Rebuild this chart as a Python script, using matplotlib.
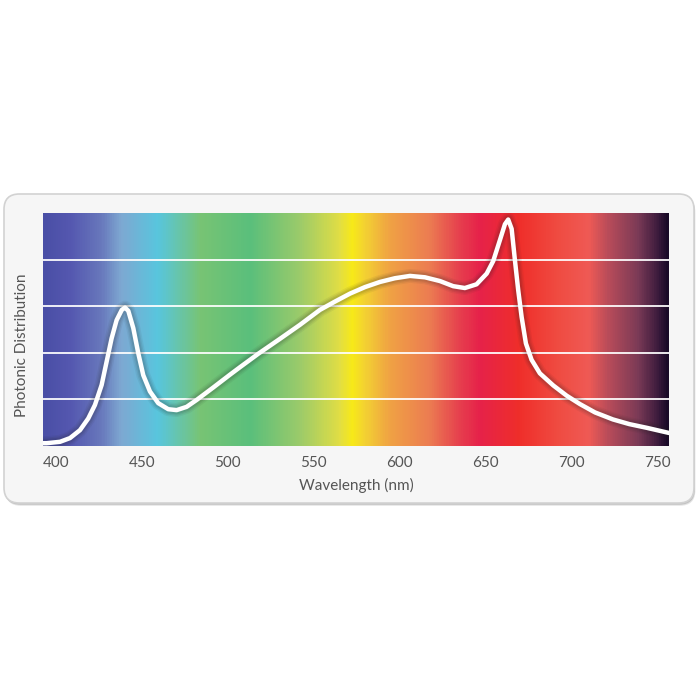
import matplotlib
matplotlib.use("Agg")
import matplotlib.pyplot as plt
import numpy as np
from matplotlib.colors import LinearSegmentedColormap, to_rgb
from matplotlib.patches import FancyBboxPatch

plt.rcParams['font.family'] = ['Lato', 'DejaVu Sans']

# ---- data ----
wavelength = [392.5, 394.6, 402.4, 408.2, 414.0, 418.8, 422.7, 426.6, 429.5, 432.4,
              435.3, 438.3, 440.2, 442.1, 445.0, 447.9, 450.8, 454.7, 459.5, 465.3,
              470.2, 476.0, 481.9, 491.3, 501.2, 507.0, 517.7, 530.3, 541.9, 553.5,
              562.3, 571.0, 579.7, 588.4, 597.1, 605.9, 614.6, 623.3, 631.0, 637.8,
              644.6, 650.5, 654.3, 658.2, 661.1, 663.0, 665.0, 666.9, 668.8, 670.8,
              673.3, 676.6, 681.4, 689.2, 697.0, 704.7, 713.5, 723.9, 733.4, 743.6,
              756.5]
photons = [0.06, 0.06, 0.09, 0.17, 0.34, 0.59, 0.88, 1.31, 1.81, 2.31,
           2.70, 2.92, 2.97, 2.90, 2.53, 1.99, 1.52, 1.17, 0.92, 0.79,
           0.77, 0.84, 0.99, 1.25, 1.53, 1.69, 1.98, 2.30, 2.60, 2.92,
           3.10, 3.27, 3.41, 3.52, 3.60, 3.65, 3.62, 3.54, 3.43, 3.39,
           3.47, 3.70, 3.97, 4.42, 4.76, 4.86, 4.66, 3.99, 3.35, 2.77,
           2.20, 1.85, 1.56, 1.30, 1.08, 0.90, 0.72, 0.57, 0.47, 0.39,
           0.28]

xticks = [400, 450, 500, 550, 600, 650, 700, 750]
ygrid = [1, 2, 3, 4]

spec_nm = [392.5, 408, 425.6, 437.3, 458.8, 483.8, 512.8, 541.9, 565.2, 572.2,
           579.7, 594.2, 617.5, 634.9, 646.6, 669.8, 693, 710.5, 722.1, 739.6,
           751.2, 756.5]
spec_col = ['#4a4fa6', '#5558b0', '#6878bc', '#7ea8d2', '#58c6de', '#78c474',
            '#5abf7c', '#9ccb6a', '#e2de44', '#f8ea18', '#f3d232', '#f0a244',
            '#ec7c52', '#e6404e', '#e6224a', '#ef2e2a', '#f04c42', '#ef5a55',
            '#b84c5a', '#7a3a56', '#3a1a3c', '#1a0a28']

XMIN, XMAX = 392.5, 756.5
YMIN, YMAX = 0, 5

W, H = 700, 700
fig = plt.figure(figsize=(7, 7), dpi=100)
fig.patch.set_facecolor('white')


def px_box(x0, y0, x1, y1):
    return x0 / W, 1 - y1 / H, (x1 - x0) / W, (y1 - y0) / H


# panel with shadow
bx, by, bw, bh = px_box(4, 194, 694, 503)
for off, a in [(0.004, 0.25), (0.0025, 0.45)]:
    shadow = FancyBboxPatch((bx + off * 0.5, by - off), bw, bh,
                            boxstyle="round,pad=0,rounding_size=0.022",
                            transform=fig.transFigure, facecolor='#9a9a9a',
                            edgecolor='none', alpha=a, zorder=0)
    fig.patches.append(shadow)
panel = FancyBboxPatch((bx, by), bw, bh,
                       boxstyle="round,pad=0,rounding_size=0.022",
                       transform=fig.transFigure, facecolor='#f6f6f6',
                       edgecolor='#d2d2d2', linewidth=1.2, zorder=1)
fig.patches.append(panel)

ax = fig.add_axes(px_box(43, 213, 669, 446))
ax.set_zorder(2)

# spectrum gradient
stops = [(n - XMIN) / (XMAX - XMIN) for n in spec_nm]
cmap = LinearSegmentedColormap.from_list('spec', list(zip(stops, [to_rgb(c) for c in spec_col])))
grad = np.linspace(0, 1, 800).reshape(1, -1)
ax.imshow(grad, cmap=cmap, aspect='auto', extent=[XMIN, XMAX, YMIN, YMAX],
          interpolation='bilinear', zorder=0)

for g in ygrid:
    ax.axhline(g, color='white', lw=1.4, alpha=0.9, zorder=1)

# halo
for lw, a in [(10, 0.06), (8, 0.08), (6, 0.10)]:
    ax.plot(wavelength, photons, color='#202020', lw=lw, alpha=a,
            solid_capstyle='round', solid_joinstyle='round', zorder=2)
ax.plot(wavelength, photons, color='white', lw=3.2,
        solid_capstyle='round', solid_joinstyle='round', zorder=3)

ax.set_xlim(XMIN, XMAX)
ax.set_ylim(YMIN, YMAX)
ax.set_xticks(xticks)
ax.set_xticklabels([str(t) for t in xticks])
ax.set_yticks([])
ax.tick_params(axis='x', length=0, pad=7, labelsize=11, labelcolor='#555555')
for s in ax.spines.values():
    s.set_visible(False)
ax.set_xlabel('Wavelength (nm)', fontsize=11, color='#555555', labelpad=6)

fig.text(22 / W, 1 - 345 / H, 'Photonic Distribution', rotation=90,
         ha='center', va='center', fontsize=11, color='#555555', zorder=3)

fig.savefig('out.png', dpi=100, facecolor='white')
